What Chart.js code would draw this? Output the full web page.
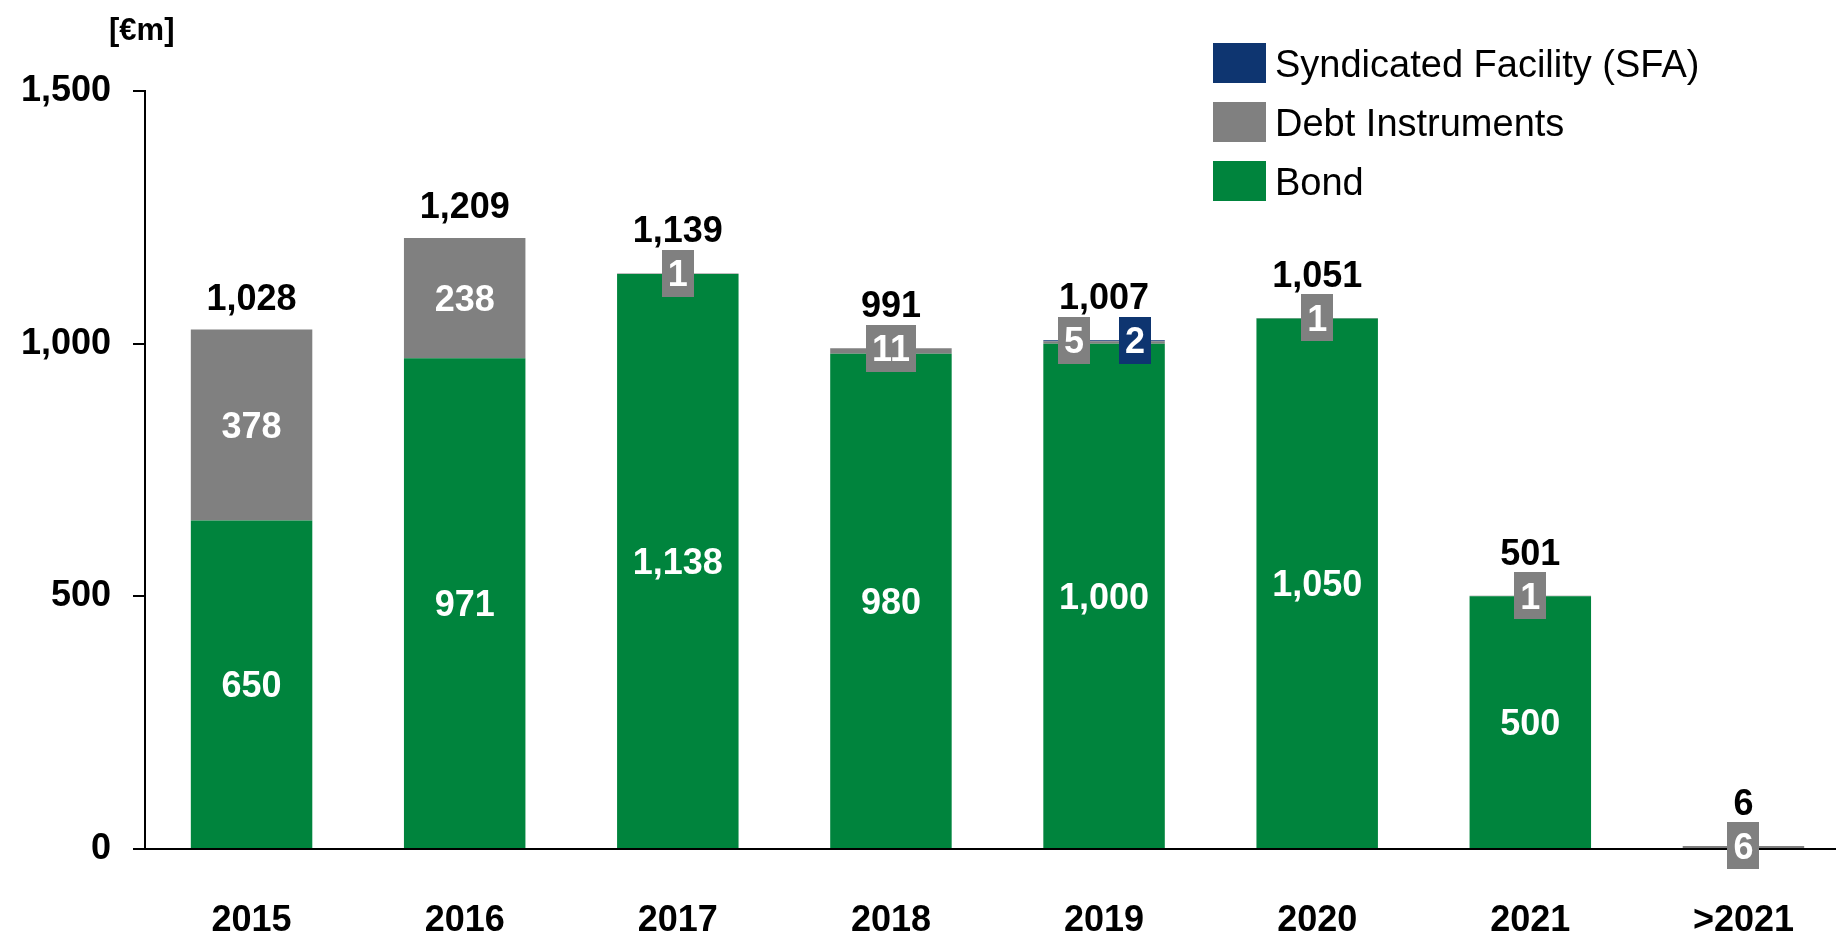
<!DOCTYPE html>
<html><head><meta charset="utf-8">
<script src="https://cdn.jsdelivr.net/npm/chart.js@4/dist/chart.umd.min.js"></script>
<style>
html,body{margin:0;padding:0;overflow:hidden;background:#fff;width:1836px;height:934px}
#wrap{position:relative;width:1850px;height:934px}
</style></head><body>
<div id="wrap"><canvas id="c" width="1850" height="934"></canvas></div>
<script>
// ---- data ----
const categories = ['2015', '2016', '2017', '2018', '2019', '2020', '2021', '>2021'];
const bondValues = [650, 971, 1138, 980, 1000, 1050, 500, 0];
const debtValues = [378, 238, 1, 11, 5, 1, 1, 6];
const sfaValues  = [0, 0, 0, 0, 2, 0, 0, 0];
const yTickValues = [0, 500, 1000, 1500];
const seriesNames = ['Bond', 'Debt Instruments', 'Syndicated Facility (SFA)'];
const unitLabel = '[€m]';

// ---- style ----
const FONT = '"Liberation Sans", Arial, Helvetica, sans-serif';
const GREEN = '#00843d', GRAY = '#808080', NAVY = '#0e3570';
const seriesColors = [GREEN, GRAY, NAVY];
const seriesData = [bondValues, debtValues, sfaValues];

function drawCentered(ctx, text, x, cy, size) {
  ctx.textBaseline = 'alphabetic';
  ctx.fillText(text, x, cy + size * 0.716 / 2);
}

const labelPlugin = {
  id: 'valueLabels',
  afterDatasetsDraw(chart) {
    const ctx = chart.ctx;
    ctx.save();
    ctx.font = 'bold 36px ' + FONT;
    ctx.textAlign = 'center';
    categories.forEach((cat, i) => {
      let stackTop = Infinity, cx = null;
      const boxes = [];
      let total = 0;
      seriesData.forEach((arr, k) => {
        const v = arr[i];
        total += v;
        const el = chart.getDatasetMeta(k).data[i];
        cx = el.x;
        if (!v) return;
        stackTop = Math.min(stackTop, el.y);
        if (v >= 50) {
          ctx.fillStyle = '#fff';
          drawCentered(ctx, v.toLocaleString('en-US'), el.x, (el.y + el.base) / 2, 36);
        } else {
          boxes.push({k, v});
        }
      });
      const offsets = boxes.length === 2 ? [-30, 31] : [0];
      boxes.forEach((b, n) => {
        const t = String(b.v);
        const w = ctx.measureText(t).width + 12;
        const h = 47;
        const bx = cx + offsets[n];
        ctx.fillStyle = seriesColors[b.k];
        ctx.fillRect(Math.round(bx - w / 2), Math.round(stackTop - h / 2), Math.round(w), h);
        ctx.fillStyle = '#fff';
        drawCentered(ctx, t, bx, stackTop, 36);
      });
      ctx.fillStyle = '#000';
      ctx.textBaseline = 'alphabetic';
      ctx.fillText(total.toLocaleString('en-US'), cx, stackTop - (boxes.length ? 31 : 20));
    });
    ctx.restore();
  },
  afterDraw(chart) {
    const ctx = chart.ctx;
    ctx.save();
    // unit label
    ctx.font = 'bold 31px ' + FONT;
    ctx.fillStyle = '#000';
    ctx.textAlign = 'left';
    ctx.textBaseline = 'alphabetic';
    ctx.fillText(unitLabel, 109, 40);
    // legend (reversed order)
    ctx.font = '38px ' + FONT;
    const order = [2, 1, 0];
    order.forEach((k, r) => {
      const y = 43 + r * 59;
      ctx.fillStyle = seriesColors[k];
      ctx.fillRect(1213, y, 53, 40);
      ctx.fillStyle = '#000';
      ctx.textBaseline = 'alphabetic';
      ctx.fillText(seriesNames[k], 1275, y + 20 + 14);
    });
    ctx.restore();
  }
};

new Chart(document.getElementById('c'), {
  type: 'bar',
  data: {
    labels: categories,
    datasets: seriesData.map((arr, k) => ({
      label: seriesNames[k],
      data: arr,
      backgroundColor: seriesColors[k],
      borderWidth: 0,
      categoryPercentage: 1,
      barPercentage: 0.57
    }))
  },
  options: {
    responsive: false,
    animation: false,
    devicePixelRatio: 1,
    layout: { padding: { top: 91, left: 0, right: 0, bottom: 0 } },
    plugins: { legend: { display: false }, tooltip: { enabled: false } },
    scales: {
      x: {
        stacked: true,
        grid: { display: false },
        border: { display: true, color: '#000', width: 2 },
        ticks: { color: '#000', font: { family: FONT, size: 36, weight: 'bold' }, padding: 42, maxRotation: 0 },
        afterFit(s) { s.height = 85; }
      },
      y: {
        stacked: true,
        min: 0, max: 1500,
        afterBuildTicks(s) { s.ticks = yTickValues.map(v => ({ value: v })); },
        grid: { drawOnChartArea: false, drawTicks: true, tickLength: 12, color: '#000', lineWidth: 2 },
        border: { display: true, color: '#000', width: 2 },
        ticks: { color: '#000', font: { family: FONT, size: 36, weight: 'bold' }, padding: 22,
                 callback: v => v.toLocaleString('en-US') },
        afterFit(s) { s.width = 145; }
      }
    }
  },
  plugins: [labelPlugin]
});
</script>
</body></html>
